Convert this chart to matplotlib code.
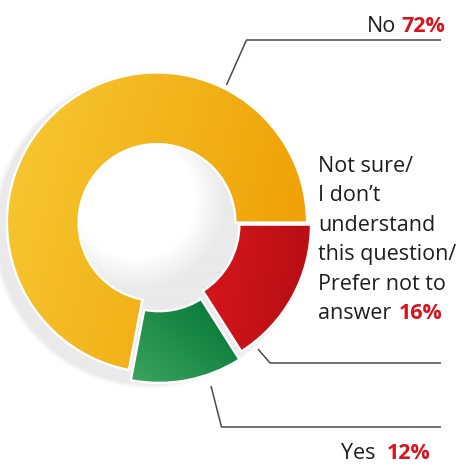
import numpy as np
import matplotlib
matplotlib.use("Agg")
import matplotlib.pyplot as plt
from matplotlib.patches import Wedge
from matplotlib.colors import to_rgb

# Survey answers and their shares (percent)
answers = ["No", "Not sure/ I don’t understand this question/ Prefer not to answer", "Yes"]
shares = [72, 16, 12]
pct_labels = ["72%", "16%", "12%"]
answer_lines = ["Not sure/", "I don’t", "understand", "this question/", "Prefer not to", "answer"]

# slice styling: gradient start/end colours, gradient direction (deg), explode
grad_from = ["#F6C52F", "#D5161B", "#3CA45D"]
grad_to = ["#EFA105", "#B90F15", "#0A7C3B"]
grad_dir = [-15, -10, 50]
explode = [0.0, 0.03, 0.07]

FONT = "Open Sans"
RED = "#D7141C"
INK = "#1E1E1E"
W, H = 470, 465

fig = plt.figure(figsize=(W / 100, H / 100), dpi=100)
fig.patch.set_facecolor("white")

# background axes in pixel units for the shadow, leaders and labels
ax = fig.add_axes([0, 0, 1, 1])
ax.set_xlim(0, W)
ax.set_ylim(H, 0)
ax.axis("off")

# soft grey brush shadow behind the ring
yy, xx = np.mgrid[0:H, 0:W] + 0.5
outer = np.clip((158 - np.hypot(xx - 150, yy - 231)) / 5, 0, 1)
hole = np.clip((np.hypot(xx - 136, yy - 200) - 58) / 32, 0, 1)
alpha = outer * hole * 0.95
shadow = np.zeros((H, W, 4))
shadow[..., :3] = to_rgb("#E9E9E9")
shadow[..., 3] = alpha
ax.imshow(shadow, extent=(0, W, H, 0), zorder=0, interpolation="bilinear")
ax.set_xlim(0, W)
ax.set_ylim(H, 0)

# donut axes: one radius unit = 150 px, centred on the ring
cx, cy, R = 157, 222.5, 150
span = 1.15
half = span * R
axp = fig.add_axes([(cx - half) / W, (H - cy - half) / H, 2 * half / W, 2 * half / H])
axp.axis("off")

order = [1, 2, 0]  # clockwise from 3 o'clock: not sure, yes, no
wedges, _ = axp.pie([shares[i] for i in order], startangle=0, counterclock=False,
                    explode=[explode[i] for i in order], radius=1,
                    colors=[grad_to[i] for i in order],
                    wedgeprops=dict(width=0.477, edgecolor="white", linewidth=1.6))

gx, gy = np.meshgrid(np.linspace(-span, span, 400), np.linspace(-span, span, 400))
for w, i in zip(wedges, order):
    th = np.radians(np.linspace(w.theta1, w.theta2, 60))
    px = np.concatenate([w.center[0] + w.r * np.cos(th), w.center[0] + (w.r - w.width) * np.cos(th)])
    py = np.concatenate([w.center[1] + w.r * np.sin(th), w.center[1] + (w.r - w.width) * np.sin(th)])
    a = np.radians(grad_dir[i])
    proj = px * np.cos(a) + py * np.sin(a)
    t = np.clip(((gx * np.cos(a) + gy * np.sin(a)) - proj.min()) / (proj.max() - proj.min()), 0, 1)
    c0, c1 = np.array(to_rgb(grad_from[i])), np.array(to_rgb(grad_to[i]))
    img = c0 + (c1 - c0) * t[..., None]
    im = axp.imshow(img, extent=(-span, span, -span, span), origin="lower",
                    interpolation="bilinear", zorder=2)
    im.set_clip_path(w)
    axp.add_patch(Wedge(w.center, w.r, w.theta1, w.theta2, width=w.width,
                        facecolor="none", edgecolor="white", linewidth=1.6, zorder=3))
axp.set_xlim(-span, span)
axp.set_ylim(-span, span)

# leader lines (pixel coordinates)
leaders = [
    [(226.5, 85), (246.5, 40), (441, 40)],
    [(258, 349), (270, 363), (441, 363)],
    [(211, 386), (221.5, 427), (441, 427)],
]
for pts in leaders:
    xs, ys = zip(*pts)
    ax.plot(xs, ys, color="#4A4A4A", lw=1.1, solid_capstyle="butt", zorder=5)

fs = 15.5
renderer = fig.canvas.get_renderer()


def pair(x_right, y_base, word, pct, gap):
    tp = ax.text(x_right, y_base, pct, ha="right", va="baseline", fontsize=fs,
                 fontweight="bold", color=RED, family=FONT, zorder=6)
    wpx = tp.get_window_extent(renderer).width
    ax.text(x_right - wpx - gap, y_base, word, ha="right", va="baseline", fontsize=fs,
            color=INK, family=FONT, zorder=6)


pair(445, 32, answers[0], pct_labels[0], 5)
pair(431, 459, answers[2], pct_labels[2], 12)

base0, step = 172, 29.4
for k, line in enumerate(answer_lines):
    ax.text(318, base0 + k * step, line, ha="left", va="baseline", fontsize=fs,
            color=INK, family=FONT, zorder=6)
ax.text(443, base0 + 5 * step, pct_labels[1], ha="right", va="baseline", fontsize=fs,
        fontweight="bold", color=RED, family=FONT, zorder=6)

fig.savefig("out.png", dpi=100, facecolor="white")
